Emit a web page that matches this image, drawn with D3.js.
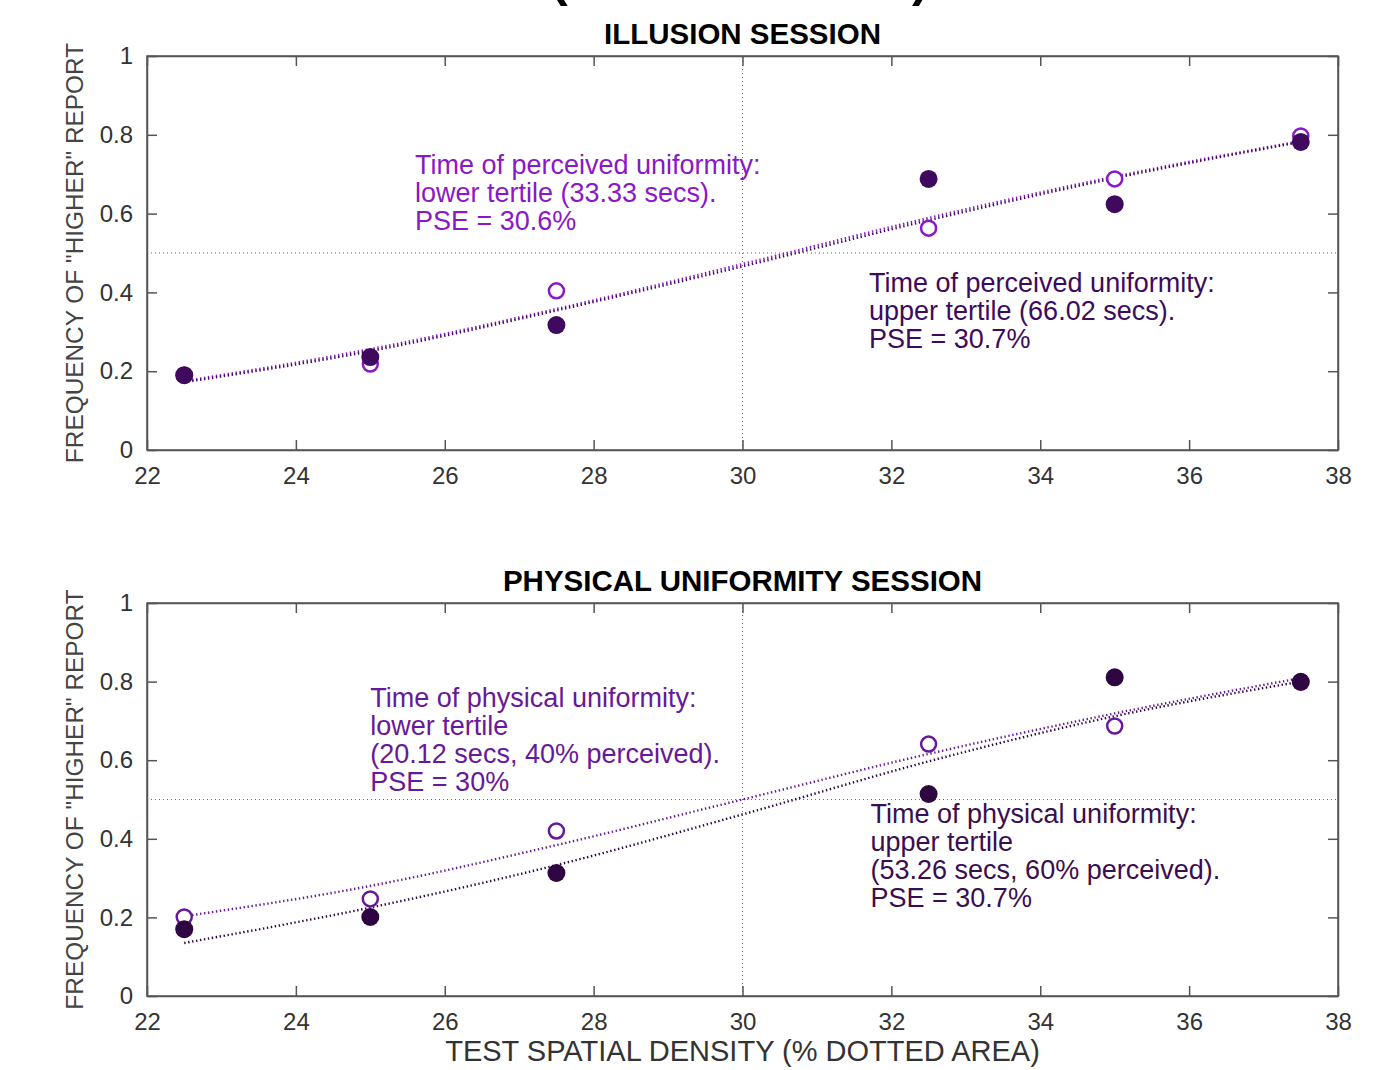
<!DOCTYPE html>
<html>
<head>
<meta charset="utf-8">
<script src="https://cdn.jsdelivr.net/npm/d3@7"></script>
<style>
  body { margin: 0; background: #fff; }
  text { font-family: "Liberation Sans", Arial, sans-serif; }
</style>
</head>
<body>
<script>
// test densities (% dotted area)
const xLevels = [22.5, 25, 27.5, 32.5, 35, 37.5];
const fitX    = [22.5, 25, 27.5, 30, 32.5, 35, 37.5];
const xTicks  = [22, 24, 26, 28, 30, 32, 34, 36, 38];
const yTicks  = [0, 0.2, 0.4, 0.6, 0.8, 1];

// illusion session
const illLower    = [0.19, 0.218, 0.404, 0.563, 0.688, 0.797];
const illUpper    = [0.19, 0.236, 0.317, 0.688, 0.624, 0.782];
const illLowerFit = [0.175, 0.256, 0.358, 0.472, 0.589, 0.694, 0.784];
const illUpperFit = [0.172, 0.251, 0.354, 0.466, 0.583, 0.690, 0.782];

// physical uniformity session
const phyLower    = [0.201, 0.247, 0.42, 0.641, 0.687, 0.80];
const phyUpper    = [0.17, 0.201, 0.313, 0.514, 0.811, 0.799];
const phyLowerFit = [0.203, 0.28, 0.384, 0.5, 0.616, 0.719, 0.809];
const phyUpperFit = [0.135, 0.225, 0.333, 0.462, 0.597, 0.712, 0.80];

const width = 1399, height = 1070;
const left = 147, right = 1338;

const svg = d3.select('body').append('svg')
  .attr('width', width)
  .attr('height', height);

const x = d3.scaleLinear().domain([22, 38]).range([left, right]);

// the cut off title above the first panel
svg.append('text').attr('x', 551).attr('y', -4)
  .style('font-size', '50px').style('font-weight', 'bold').text('(');
svg.append('text').attr('x', 912).attr('y', -4)
  .style('font-size', '50px').style('font-weight', 'bold').text(')');

const drawPanel = function(opt) {
  const y = d3.scaleLinear().domain([0, 1]).range([opt.bottom, opt.top]);
  const g = svg.append('g');

  // reference lines
  g.append('line')
    .attr('x1', x(22)).attr('x2', x(38)).attr('y1', y(0.5)).attr('y2', y(0.5))
    .attr('stroke', '#666').attr('stroke-width', 1).attr('stroke-dasharray', '1 3');
  g.append('line')
    .attr('x1', x(30)).attr('x2', x(30)).attr('y1', y(0)).attr('y2', y(1))
    .attr('stroke', '#666').attr('stroke-width', 1).attr('stroke-dasharray', '1 3');

  // axes, ticks inward
  const xb = g.append('g').attr('transform', 'translate(0,' + y(0) + ')')
    .call(d3.axisBottom(x).tickValues(xTicks).tickSizeInner(-10).tickSizeOuter(0).tickPadding(16));
  g.append('g').attr('transform', 'translate(0,' + y(1) + ')')
    .call(d3.axisTop(x).tickValues(xTicks).tickSizeInner(-10).tickSizeOuter(0).tickFormat(''));
  g.append('g').attr('transform', 'translate(' + left + ',0)')
    .call(d3.axisLeft(y).tickValues(yTicks).tickSizeInner(-10).tickSizeOuter(0).tickPadding(14)
      .tickFormat(d => d === 0 || d === 1 ? d : d3.format('.1f')(d)));
  g.append('g').attr('transform', 'translate(' + right + ',0)')
    .call(d3.axisRight(y).tickValues(yTicks).tickSizeInner(-10).tickSizeOuter(0).tickFormat(''));
  g.selectAll('.domain').attr('stroke', '#555').attr('stroke-width', 1.5);
  g.selectAll('.tick line').attr('stroke', '#555').attr('stroke-width', 1.5);
  g.selectAll('.tick text').style('font-size', '24px').attr('fill', '#333');
  xb.selectAll('.tick text').attr('dy', '0.75em');
  // box
  g.append('rect').attr('x', left).attr('y', y(1))
    .attr('width', right - left).attr('height', y(0) - y(1))
    .attr('fill', 'none').attr('stroke', '#555').attr('stroke-width', 1.5);

  // fitted curves
  const line = d3.line().x((d, i) => x(fitX[i])).y(d => y(d)).curve(d3.curveMonotoneX);
  [[opt.lowerFit, opt.lowerColor], [opt.upperFit, opt.upperColor]].forEach(f => {
    g.append('path').attr('d', line(f[0]))
      .attr('fill', 'none').attr('stroke', f[1])
      .attr('stroke-width', 2.4).attr('stroke-dasharray', '1.4 2.6');
  });

  // data points: open = lower tertile, filled = upper tertile
  g.selectAll('.open').data(opt.lower).enter().append('circle')
    .attr('cx', (d, i) => x(xLevels[i])).attr('cy', d => y(d)).attr('r', 7.5)
    .attr('fill', '#fff').attr('stroke', opt.lowerColor).attr('stroke-width', 2.5);
  g.selectAll('.filled').data(opt.upper).enter().append('circle')
    .attr('cx', (d, i) => x(xLevels[i])).attr('cy', d => y(d)).attr('r', 9)
    .attr('fill', opt.upperColor);

  // title and labels
  g.append('text').attr('x', x(30)).attr('y', opt.top - 12)
    .attr('text-anchor', 'middle').style('font-size', '29.5px').style('font-weight', 'bold')
    .attr('fill', '#000').text(opt.title);
  g.append('text')
    .attr('transform', 'translate(83,' + (opt.top + opt.bottom) / 2 + ') rotate(-90)')
    .attr('text-anchor', 'middle').style('font-size', '24.4px').attr('fill', '#444')
    .text('FREQUENCY OF "HIGHER" REPORT');

  opt.notes.forEach(n => {
    const t = g.append('text').attr('fill', n.color).style('font-size', '27px');
    n.lines.forEach((s, i) => {
      t.append('tspan').attr('x', x(n.x)).attr('y', y(n.y) + i * 28).text(s);
    });
  });
};

drawPanel({
  top: 56, bottom: 450, title: 'ILLUSION SESSION',
  lower: illLower, upper: illUpper, lowerFit: illLowerFit, upperFit: illUpperFit,
  lowerColor: '#8a18c8', upperColor: '#3f0a5e',
  notes: [
    {x: 25.6, y: 0.7, color: '#8a18c8',
     lines: ['Time of perceived uniformity:', 'lower tertile (33.33 secs).', 'PSE = 30.6%']},
    {x: 31.7, y: 0.4, color: '#3d0b5c',
     lines: ['Time of perceived uniformity:', 'upper tertile (66.02 secs).', 'PSE = 30.7%']}
  ]
});

drawPanel({
  top: 603, bottom: 996, title: 'PHYSICAL UNIFORMITY SESSION',
  lower: phyLower, upper: phyUpper, lowerFit: phyLowerFit, upperFit: phyUpperFit,
  lowerColor: '#68189a', upperColor: '#2e0642',
  notes: [
    {x: 25.0, y: 0.735, color: '#68189a',
     lines: ['Time of physical uniformity:', 'lower tertile', '(20.12 secs, 40% perceived).', 'PSE = 30%']},
    {x: 31.72, y: 0.439, color: '#3a0e50',
     lines: ['Time of physical uniformity:', 'upper tertile', '(53.26 secs, 60% perceived).', 'PSE = 30.7%']}
  ]
});

svg.append('text').attr('x', x(30)).attr('y', 1061)
  .attr('text-anchor', 'middle').style('font-size', '29px').attr('fill', '#333')
  .text('TEST SPATIAL DENSITY (% DOTTED AREA)');
</script>
</body>
</html>
